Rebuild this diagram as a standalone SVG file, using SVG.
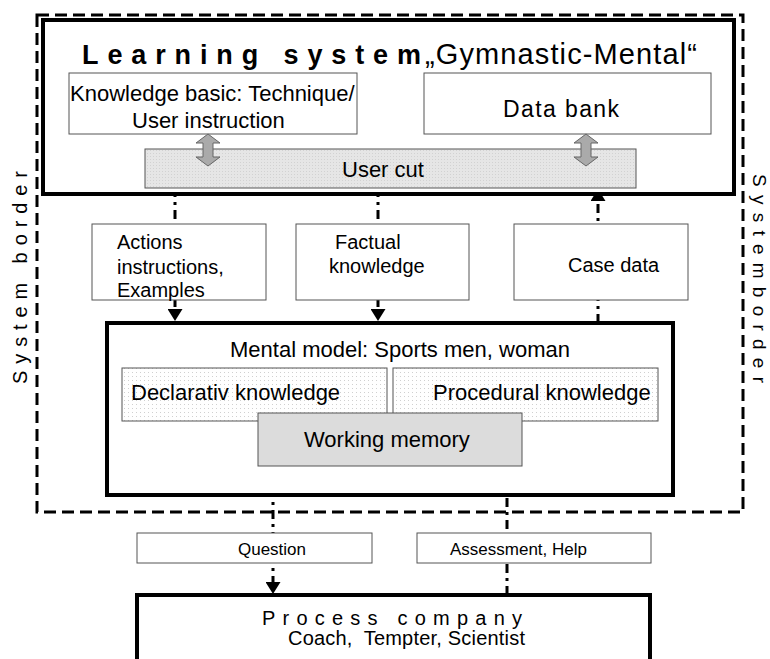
<svg xmlns="http://www.w3.org/2000/svg" width="770" height="659" viewBox="0 0 770 659">
<style>
text{font-family:"Liberation Sans",Arial,Helvetica,sans-serif;fill:#000}
.big{stroke:#000;stroke-width:4;fill:#fff}
.box{stroke:#555;stroke-width:1;fill:#fff}
.conn{stroke:#000;stroke-width:3;fill:none;stroke-dasharray:9 5 3 5}
.f22{font-size:22px}
.f20{font-size:20px}
.f17{font-size:17px}
.dbl{fill:#aaa;stroke:#666;stroke-width:1}
</style>
<defs>
<pattern id="dots" width="4" height="4" patternUnits="userSpaceOnUse">
<rect width="4" height="4" fill="#fff"/>
<rect width="1" height="1" fill="#d0d0d0"/>
</pattern>
<pattern id="hatch" width="3" height="3" patternUnits="userSpaceOnUse">
<rect width="3" height="3" fill="#e6e6e6"/>
<rect width="1" height="1" fill="#d2d2d2"/>
</pattern>
<marker id="ah" viewBox="0 0 12 15" refX="0" refY="7.5" markerWidth="12" markerHeight="15" markerUnits="userSpaceOnUse" orient="auto">
<path d="M0,0 L12,7.5 L0,15 Z" fill="#000"/>
</marker>
</defs>
<rect width="770" height="659" fill="#fff"/>

<g id="system-border">
<rect x="37" y="15" width="706" height="497" fill="none" stroke="#000" stroke-width="3" stroke-dasharray="12 6"/>
<text class="f20" transform="translate(27,384) rotate(-90)" textLength="213" lengthAdjust="spacing">System border</text>
<text font-size="19" transform="translate(753,174) rotate(90)" textLength="209" lengthAdjust="spacing">Systemborder</text>
</g>

<g id="connectors">
<path class="conn" d="M175,188 V309" marker-end="url(#ah)"/>
<path class="conn" d="M378,188 V309" marker-end="url(#ah)"/>
<path class="conn" d="M598,323 V201" marker-end="url(#ah)"/>
<path class="conn" d="M273,466 V582" marker-end="url(#ah)"/>
<path class="conn" d="M507,595 V480" marker-end="url(#ah)"/>
</g>

<g id="learning-system">
<rect class="big" x="43" y="20" width="691" height="174"/>
<text x="82" y="64" font-size="27" font-weight="bold" textLength="339" lengthAdjust="spacing">Learning system</text>
<text x="425" y="64" font-size="29" textLength="272" lengthAdjust="spacing">„Gymnastic-Mental“</text>
</g>

<g id="knowledge-basic">
<rect class="box" x="69" y="73" width="288" height="61"/>
<text class="f22" x="70" y="101">Knowledge basic: Technique/</text>
<text class="f22" x="132" y="128">User instruction</text>
</g>

<g id="data-bank">
<rect class="box" x="424" y="73" width="287" height="61"/>
<text x="503" y="117" font-size="23" textLength="116" lengthAdjust="spacing">Data bank</text>
</g>

<g id="user-cut">
<rect x="145" y="149" width="491" height="39" fill="url(#hatch)" stroke="#555" stroke-width="1"/>
<text class="f22" x="342" y="177">User cut</text>
</g>

<g id="double-arrows">
<path class="dbl" d="M208,134 L220,143 L213,143 L213,157 L220,157 L208,166 L196,157 L203,157 L203,143 L196,143 Z"/>
<path class="dbl" d="M586,134 L598,143 L591,143 L591,157 L598,157 L586,166 L574,157 L581,157 L581,143 L574,143 Z"/>
</g>

<g id="actions">
<rect class="box" x="92" y="224" width="174" height="76"/>
<text class="f20" x="117" y="249">Actions</text>
<text class="f20" x="117" y="274">instructions,</text>
<text class="f20" x="117" y="297">Examples</text>
</g>

<g id="factual">
<rect class="box" x="296" y="224" width="173" height="76"/>
<text class="f20" x="335" y="249">Factual</text>
<text class="f20" x="329" y="273">knowledge</text>
</g>

<g id="case-data">
<rect class="box" x="514" y="224" width="174" height="76"/>
<text class="f20" x="568" y="272">Case data</text>
</g>

<g id="mental-model">
<rect class="big" x="107" y="323" width="566" height="172"/>
<text class="f22" x="230" y="357">Mental model: Sports men, woman</text>
</g>

<g id="declarativ">
<rect x="122" y="368" width="265" height="53" fill="url(#dots)" stroke="#555" stroke-width="1"/>
<text class="f22" x="131" y="400">Declarativ knowledge</text>
</g>

<g id="procedural">
<rect x="393" y="368" width="265" height="53" fill="url(#dots)" stroke="#555" stroke-width="1"/>
<text class="f22" x="433" y="400">Procedural knowledge</text>
</g>

<g id="working-memory">
<rect x="258" y="413" width="264" height="53" fill="#dcdcdc" stroke="#555" stroke-width="1"/>
<text class="f22" x="304" y="447">Working memory</text>
</g>

<g id="question">
<rect class="box" x="137" y="533" width="235" height="30"/>
<text class="f17" x="272" y="555" text-anchor="middle">Question</text>
</g>

<g id="assessment">
<rect class="box" x="417" y="533" width="234" height="30"/>
<text class="f17" x="450" y="555">Assessment, Help</text>
</g>

<g id="process-company">
<rect class="big" x="137" y="595" width="513" height="80"/>
<text x="262" y="625" font-size="20" textLength="260" lengthAdjust="spacing">Process company</text>
<text x="288" y="645" font-size="20" textLength="237" lengthAdjust="spacing">Coach,&#160; Tempter, Scientist</text>
</g>
</svg>
